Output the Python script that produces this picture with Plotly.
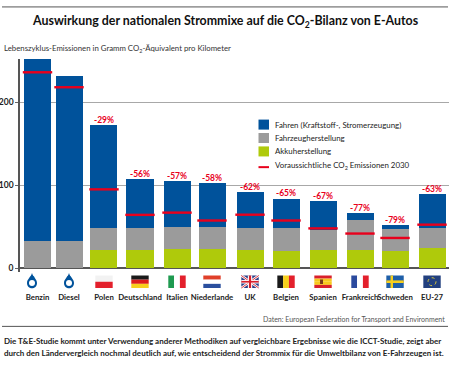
import plotly.graph_objects as go

# ---- data ----
categories = ["Benzin", "Diesel", "Polen", "Deutschland", "Italien", "Niederlande",
              "UK", "Belgien", "Spanien", "Frankreich", "Schweden", "EU-27"]
battery = [0, 0, 22.5, 22.5, 23, 23, 22.5, 21, 22.5, 22.5, 21, 25]
vehicle = [33, 33, 26, 26, 27, 27, 26, 27.5, 24, 35.5, 26, 23.5]
driving = [219, 199, 123.5, 58.5, 55, 53, 43, 35.5, 34.5, 8, 5.5, 40.5]
target_2030 = [236, 218, 95, 64.3, 67, 57.5, 64.5, 57.5, 48, 41.8, 36.5, 52.5]
reduction = ["", "", "-29%", "-56%", "-57%", "-58%", "-62%", "-65%", "-67%", "-77%", "-79%", "-63%"]
y_ticks = [0, 100, 200]

# ---- layout ----
FONT = "Lato"
slots = [0, .875, 1.847, 2.847, 3.875, 4.847, 5.903, 6.903, 7.931, 8.958, 9.931, 10.958]
BLUE, GREY, GREEN, RED = "#00529b", "#9b9b9b", "#afca0b", "#e8001c"
W, H = 450, 365
ML, MR, MT, MB = 20, 1, 59, 93.3
totals = [a + b + c for a, b, c in zip(battery, vehicle, driving)]

fig = go.Figure()
for name, vals, col in [("Akkuherstellung", battery, GREEN),
                        ("Fahrzeugherstellung", vehicle, GREY),
                        ("Fahren (Kraftstoff-, Stromerzeugung)", driving, BLUE)]:
    fig.add_bar(x=slots, y=vals, name=name, marker_color=col, marker_line_width=0, width=.75)
fig.add_scatter(x=slots, y=target_2030, mode="markers", name="Voraussichtliche CO2 Emissionen 2030",
                marker=dict(symbol="line-ew", size=21, line=dict(color=RED, width=2.4)))
fig.add_scatter(x=slots, y=totals, mode="text", text=reduction, textposition="top center",
                textfont=dict(color=RED, size=8.5, family=FONT, weight=700), showlegend=False, cliponaxis=False)


def pa(px):
    return (px - ML) / (W - ML - MR)


def pb(py):
    return (H - MB - py) / (H - MT - MB)


shapes, ann = [], []


def rule(y, color="#666666", width=1):
    shapes.append(dict(type="line", xref="paper", yref="paper", x0=pa(2), x1=pa(448), y0=pb(y), y1=pb(y),
                       line=dict(color=color, width=width)))


def text(x, y, s, size=9, color="#222222", anchor="left", bold=False):
    ann.append(dict(xref="paper", yref="paper", x=pa(x), y=pb(y), text=s, showarrow=False, xanchor=anchor,
                    yanchor="middle", xshift=0, font=dict(family=FONT, size=size, color=color, weight=700 if bold else 400)))


rule(7, "#555555", 1)
rule(326, "#555555", 1)
text(225, 22, "Auswirkung der nationalen Strommixe auf die CO<sub>2</sub>-Bilanz von E-Autos", 12.4, "#111111", "center", True)
text(2, 49, "Lebenszyklus-Emissionen in Gramm CO<sub>2</sub>-Äquivalent pro Kilometer", 7.8, "#333333")
text(447, 319, "Daten: European Federation for Transport and Environment", 7, "#555555", "right")
text(2, 341, "Die T&E-Studie kommt unter Verwendung anderer Methodiken auf vergleichbare Ergebnisse wie die ICCT-Studie, zeigt aber", 8, "#222222", "left", True)
text(2, 353, "durch den Ländervergleich nochmal deutlich auf, wie entscheidend der Strommix für die Umweltbilanz von E-Fahrzeugen ist.", 8, "#222222", "left", True)

# legend drawn to the original's tight swatch spacing
for i, (lab, col) in enumerate([("Fahren (Kraftstoff-, Stromerzeugung)", BLUE), ("Fahrzeugherstellung", GREY),
                                ("Akkuherstellung", GREEN)]):
    yc = 124.5 + i * 13.4
    shapes.append(dict(type="rect", xref="paper", yref="paper", x0=pa(258.5), x1=pa(269), y0=pb(yc - 5), y1=pb(yc + 5),
                       fillcolor=col, line_width=0))
    text(273, yc, lab, 7.9, "#222222")
shapes.append(dict(type="line", xref="paper", yref="paper", x0=pa(258.5), x1=pa(269), y0=pb(167), y1=pb(167),
                   line=dict(color=RED, width=2)))
text(273, 165.5, "Voraussichtliche CO<sub>2</sub> Emissionen 2030", 7.9, "#222222")


def box(i, x0, x1, y0, y1, col):
    """Rectangle in pixels relative to category i's slot and the axis bottom (y down)."""
    shapes.append(dict(type="rect", xref="x", yref="paper", xsizemode="pixel", ysizemode="pixel",
                       xanchor=slots[i], yanchor=0, x0=x0, x1=x1, y0=-y0, y1=-y1, fillcolor=col, line_width=0))


def seg(i, x0, y0, x1, y1, col, w):
    shapes.append(dict(type="line", xref="x", yref="paper", xsizemode="pixel", ysizemode="pixel",
                       xanchor=slots[i], yanchor=0, x0=x0, x1=x1, y0=-y0, y1=-y1, line=dict(color=col, width=w)))


FT, FB, FW = 3.5, 16, 8.7  # flag top, bottom, half width


def hflag(i, cols):
    h = (FB - FT) / len(cols)
    for k, c in enumerate(cols):
        box(i, -FW, FW, FT + k * h, FT + (k + 1) * h, c)


def vflag(i, cols):
    w = 2 * FW / len(cols)
    for k, c in enumerate(cols):
        box(i, -FW + k * w, -FW + (k + 1) * w, FT, FB, c)


# fuel drops
for i, dx, letter in [(0, -5.5, "P"), (1, 0, "D")]:
    shapes.append(dict(type="path", xref="x", yref="paper", xsizemode="pixel", ysizemode="pixel",
                       xanchor=slots[i], yanchor=0, fillcolor=BLUE, line_width=0,
                       path=f"M {dx} -1 C {dx+1} -5 {dx+5} -7 {dx+5} -11 C {dx+5} -18 {dx-5} -18 {dx-5} -11 C {dx-5} -7 {dx-1} -5 {dx} -1 Z"))
    shapes.append(dict(type="circle", xref="x", yref="paper", xsizemode="pixel", ysizemode="pixel",
                       xanchor=slots[i], yanchor=0, x0=dx - 3, x1=dx + 3, y0=-8, y1=-14, fillcolor="white", line_width=0))
    ann.append(dict(xref="x", yref="paper", x=slots[i], y=0, xshift=dx, yshift=-11, text=letter, showarrow=False,
                    font=dict(family=FONT, size=5, color=BLUE, weight=700)))

hflag(2, ["#f2f2f2", "#e3202c"])
hflag(3, ["#1a1a1a", "#dd1c1c", "#f7cf1d"])
vflag(4, ["#1f9a50", "#ffffff", "#e3202c"])
hflag(5, ["#e0402a", "#ffffff", "#2b4f9e"])
# UK
box(6, -FW, FW, FT, FB, "#2b3f87")
for a in (-1, 1):
    seg(6, a * FW, FT, -a * FW, FB, "#ffffff", 2.4)
    seg(6, a * FW, FT, -a * FW, FB, "#d9202c", .9)
box(6, -FW, FW, 8, 11.5, "#ffffff")
box(6, -2.2, 2.2, FT, FB, "#ffffff")
box(6, -FW, FW, 8.9, 10.6, "#d9202c")
box(6, -1.1, 1.1, FT, FB, "#d9202c")
vflag(7, ["#1a1a1a", "#f7d11d", "#e3202c"])
# Spain
hflag(8, ["#d9202c", "#f7c91d", "#f7c91d", "#d9202c"])
box(8, -3, 0, 7.5, 12, "#7a3b1c")
vflag(9, ["#2b4a9e", "#ffffff", "#e3202c"])
# Sweden
box(10, -FW, FW, FT, FB, "#1f5fa8")
box(10, -FW, FW, 8.4, 11, "#f7cf1d")
box(10, -4.5, -2, FT, FB, "#f7cf1d")
# EU with a ring of stars
box(11, -FW, FW, FT, FB, "#22407f")
shapes.append(dict(type="circle", xref="x", yref="paper", xsizemode="pixel", ysizemode="pixel", xanchor=slots[11],
                   yanchor=0, x0=-4, x1=4, y0=-5.7, y1=-13.7, line=dict(color="#d8c83a", width=1, dash="dot")))

fig.update_layout(
    width=W, height=H, autosize=False, barmode="stack", showlegend=False,
    paper_bgcolor="white", plot_bgcolor="white",
    margin=dict(l=ML, r=MR, t=MT, b=MB, pad=0, autoexpand=False),
    shapes=shapes, annotations=ann,
    font=dict(family=FONT, color="#222222"),
    xaxis=dict(range=[-.486, 11.43], tickmode="array", tickvals=slots, ticktext=categories, ticks="", tickangle=0,
               tickfont=dict(family=FONT, size=7.8, color="#222222", weight=700), ticklabelstandoff=19, automargin=False,
               showgrid=False, zeroline=False, showline=False, fixedrange=True),
    yaxis=dict(range=[-4.5, 252], tickmode="array", tickvals=y_ticks, ticks="outside", ticklen=3, tickcolor="#666666",
               tickfont=dict(family=FONT, size=8.5, color="#222222", weight=700), automargin=False,
               showgrid=True, gridcolor="#a8a8a8", gridwidth=1, zeroline=True, zerolinecolor="#555555", zerolinewidth=1.5,
               showline=True, linecolor="#555555", linewidth=1.5, layer="below traces", fixedrange=True),
)
fig.write_html("out.html", config={"displayModeBar": False},
               post_script="document.body.style.margin='0';document.documentElement.style.overflow='hidden';")
